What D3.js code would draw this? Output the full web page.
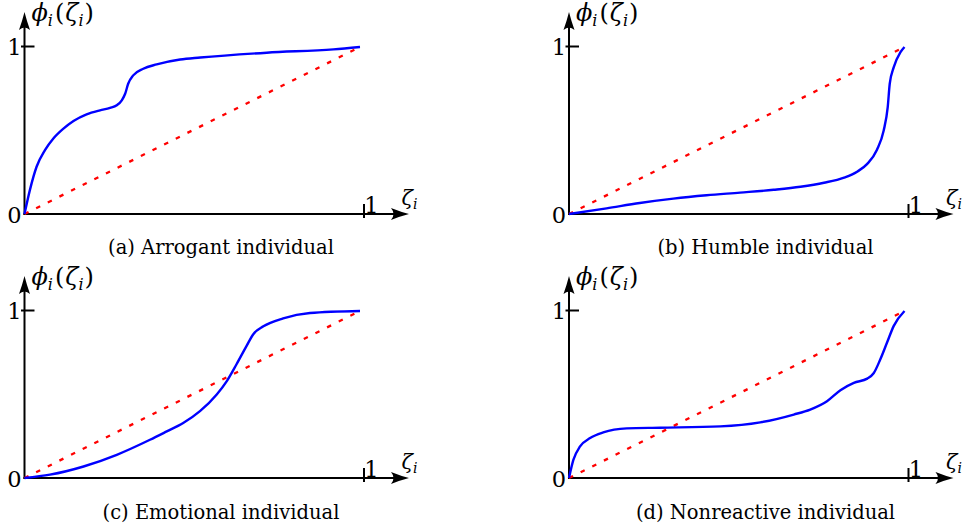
<!DOCTYPE html>
<html><head><meta charset="utf-8">
<script src="https://cdn.jsdelivr.net/npm/d3@7"></script>
<style>body{margin:0;background:#fff}svg{display:block}</style>
</head><body>
<svg id="c" width="966" height="531"></svg>
<script>
// ---- data ----
const captions = ["(a) Arrogant individual", "(b) Humble individual", "(c) Emotional individual", "(d) Nonreactive individual"];
const tickValues = [0, 1];
const diagonal = [[0, 0], [1, 1]];
const arrogant = [[0,0],[0.016,0.143],[0.036,0.283],[0.061,0.382],[0.086,0.452],[0.116,0.511],[0.146,0.557],[0.185,0.597],[0.225,0.621],[0.255,0.635],[0.275,0.651],[0.29,0.681],[0.3,0.72],[0.309,0.78],[0.324,0.83],[0.354,0.87],[0.394,0.896],[0.464,0.925],[0.524,0.937],[0.722,0.966],[0.921,0.986],[1,1]];
const humble = [[0,0],[0.112,0.034],[0.211,0.066],[0.311,0.092],[0.41,0.112],[0.51,0.128],[0.61,0.145],[0.69,0.163],[0.76,0.187],[0.82,0.218],[0.86,0.255],[0.889,0.3],[0.918,0.385],[0.938,0.5],[0.95,0.64],[0.956,0.78],[0.968,0.879],[0.988,0.969],[1,1]];
const emotional = [[0,0],[0.076,0.02],[0.176,0.069],[0.275,0.139],[0.374,0.229],[0.424,0.279],[0.473,0.329],[0.523,0.4],[0.573,0.5],[0.603,0.58],[0.632,0.681],[0.662,0.791],[0.682,0.861],[0.712,0.908],[0.771,0.956],[0.851,0.988],[1,1]];
const nonreactive = [[0,0],[0.013,0.108],[0.033,0.189],[0.063,0.239],[0.102,0.273],[0.172,0.297],[0.272,0.301],[0.451,0.309],[0.57,0.333],[0.67,0.38],[0.719,0.41],[0.769,0.46],[0.809,0.526],[0.849,0.57],[0.889,0.595],[0.908,0.627],[0.928,0.711],[0.948,0.811],[0.968,0.911],[1,1]];
const curves = [arrogant, humble, emotional, nonreactive];

// ---- layout ----
const origins = [[24.5, 214], [569, 214], [24.5, 478], [569, 478]];
const W = 335.5, H = 167;
const serif = "DejaVu Serif";

const svg = d3.select("#c");

curves.forEach((data, k) => {
  const [ox, oy] = origins[k];
  const g = svg.append("g").attr("transform", `translate(${ox},${oy})`);
  const x = d3.scaleLinear().domain([0, 1]).range([0, W]);
  const y = d3.scaleLinear().domain([0, 1]).range([0, -H]);
  const line = d3.line().x(d => x(d[0])).y(d => y(d[1]));

  // axes lines
  g.append("line").attr("x1", -1).attr("y1", 0).attr("x2", 372).attr("y2", 0)
    .attr("stroke", "#000").attr("stroke-width", 2);
  g.append("line").attr("x1", 0).attr("y1", 1).attr("x2", 0).attr("y2", -190)
    .attr("stroke", "#000").attr("stroke-width", 2);
  // arrowheads
  const L = 384.5;
  g.append("path").attr("d", `M${L},0 Q${L-8},-2 ${L-18},-6 Q${L-13},0 ${L-18},6 Q${L-8},2 ${L},0Z`).attr("fill", "#000");
  const T = -202;
  g.append("path").attr("d", `M0,${T} Q-2,${T+8} -5.5,${T+18} Q0,${T+13} 5.5,${T+18} Q2,${T+8} 0,${T}Z`).attr("fill", "#000");

  // ticks
  const xt = x(tickValues[1]) + 4;
  g.append("line").attr("x1", xt).attr("x2", xt).attr("y1", 4).attr("y2", -10)
    .attr("stroke", "#000").attr("stroke-width", 2);
  g.append("line").attr("x1", -3.5).attr("x2", 10).attr("y1", y(tickValues[1]) - 0.5).attr("y2", y(tickValues[1]) - 0.5)
    .attr("stroke", "#000").attr("stroke-width", 2);

  // tick labels
  g.append("text").attr("x", -10).attr("y", 9).attr("text-anchor", "middle")
    .attr("font-family", serif).attr("font-size", 22.5).text(String(tickValues[0]));
  g.append("text").attr("x", -10).attr("y", y(tickValues[1]) + 8).attr("text-anchor", "middle")
    .attr("font-family", serif).attr("font-size", 22.5).text(String(tickValues[1]));
  g.append("text").attr("x", xt + 7.5).attr("y", -1).attr("text-anchor", "middle")
    .attr("font-family", serif).attr("font-size", 22.5).text(String(tickValues[1]));

  // axis labels
  const xl = g.append("text").attr("x", 377).attr("y", -9).attr("font-family", serif).attr("font-size", 21).attr("font-style", "italic");
  xl.append("tspan").text("ζ");
  xl.append("tspan").attr("font-size", 14).attr("dy", 4).text("i");

  const yl = g.append("text").attr("x", 7).attr("y", -193).attr("font-family", serif).attr("font-size", 24);
  yl.append("tspan").attr("font-style", "italic").text("ϕ");
  yl.append("tspan").attr("font-style", "italic").attr("font-size", 16).attr("dy", 4.5).text("i");
  yl.append("tspan").attr("dy", -4.5).attr("dx", 2).text("(");
  yl.append("tspan").attr("font-style", "italic").attr("dx", 1).text("ζ");
  yl.append("tspan").attr("font-style", "italic").attr("font-size", 16).attr("dy", 4.5).text("i");
  yl.append("tspan").attr("dy", -4.5).attr("dx", 1).text(")");

  // curves
  g.append("path").datum(diagonal).attr("d", line)
    .attr("fill", "none").attr("stroke", "#ff0000").attr("stroke-width", 2.3)
    .attr("stroke-dasharray", "4.5,8.5");
  g.append("path").datum(data).attr("d", line.curve(d3.curveMonotoneX))
    .attr("fill", "none").attr("stroke", "#0000ff").attr("stroke-width", 2.4);

  // caption
  g.append("text").attr("x", 196.5).attr("y", k < 2 ? 40 : 41).attr("text-anchor", "middle")
    .attr("font-family", serif).attr("font-size", 19.5).text(captions[k]);
});
</script>
</body></html>
